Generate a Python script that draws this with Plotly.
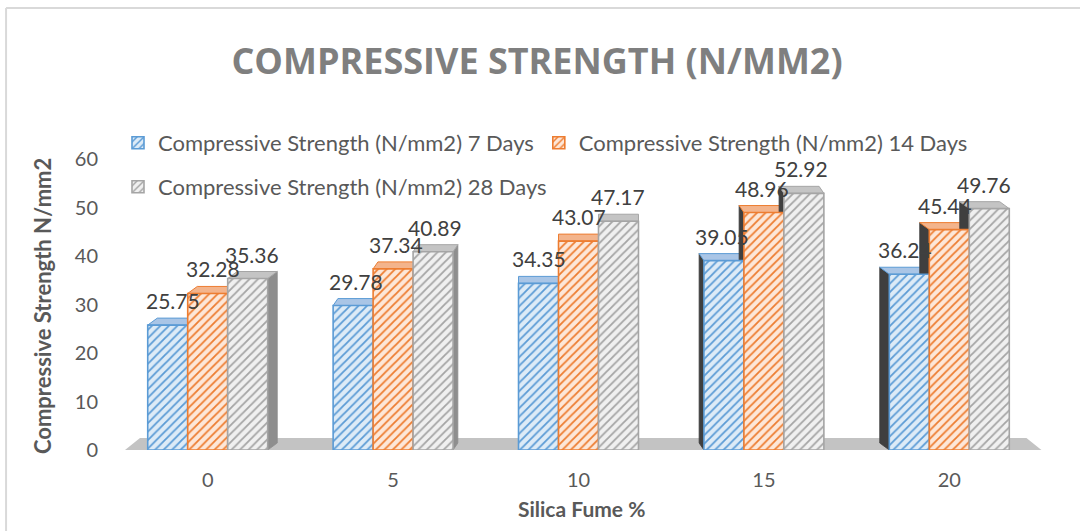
import plotly.graph_objects as go

# ---- data ----
silica_fume = ["0", "5", "10", "15", "20"]
strength_7 = [25.75, 29.78, 34.35, 39.05, 36.24]
strength_14 = [32.28, 37.34, 43.07, 48.96, 45.44]
strength_28 = [35.36, 40.89, 47.17, 52.92, 49.76]
series_names = [
    "Compressive Strength (N/mm2) 7 Days",
    "Compressive Strength (N/mm2) 14 Days",
    "Compressive Strength (N/mm2) 28 Days",
]
y_ticks = [0, 10, 20, 30, 40, 50, 60]

# ---- styling ----
front_fill = ["#ddebf7", "#fde7d8", "#f0f0f0"]
edge_col = ["#5b9bd5", "#ed7d31", "#a5a5a5"]
top_fill = ["#a9c5e6", "#f3b48c", "#c4c4c4"]
FONT = "Lato"
TXT = "#595959"

W, H = 1080, 531
L, R, T, B = 115, 37.5, 159, 81
plot_w = W - L - R
plot_h = H - T - B
n_cat = len(silica_fume)
x_range = [-0.5, n_cat - 0.5]
y_range = [0, 60]
px_per_x = plot_w / (x_range[1] - x_range[0])
px_per_y = plot_h / (y_range[1] - y_range[0])

group_w = 0.647
bar_w = group_w / 3
depth_up = 7 / px_per_y           # upward shift of the back edge
def depth_dx(i):                  # sideways shift of the back edge (perspective)
    return (2 - i) * 4.8 / px_per_x

def to_paper_x(px):
    return (px - L) / plot_w

def to_paper_y(py):
    return (H - B - py) / plot_h

all_series = [strength_7, strength_14, strength_28]
cats = list(range(n_cat))

fig = go.Figure()
for j, (vals, name) in enumerate(zip(all_series, series_names)):
    fig.add_trace(go.Bar(
        x=cats, y=vals, name=name,
        legend="legend" if j < 2 else "legend2",
        marker=dict(
            color=front_fill[j],
            line=dict(color=edge_col[j], width=1.6),
            pattern=dict(shape="/", fgcolor=edge_col[j], bgcolor=front_fill[j],
                         size=6, solidity=0.3, fillmode="replace"),
        ),
        hoverinfo="skip",
    ))

shapes = []
# floor
fl_front = (-0.446, 4.497)
fl_back = (-0.365, 4.416)
fl_depth = 12 / px_per_y
shapes.append(dict(
    type="path", xref="x", yref="y", layer="below",
    path=f"M {fl_front[0]},0 L {fl_front[1]},0 L {fl_back[1]},{fl_depth} L {fl_back[0]},{fl_depth} Z",
    fillcolor="#c3c3c3", line=dict(width=0),
))

# 3-D sides and tops of each column
annotations = []
for j, vals in enumerate(all_series):
    for i, v in enumerate(vals):
        xl = i - group_w / 2 + j * bar_w
        xr = xl + bar_w
        dx = depth_dx(i)
        dy = depth_up
        if dx > 1e-9:
            side = f"M {xr},0 L {xr},{v} L {xr+dx},{v+dy} L {xr+dx},{dy} Z"
            side_col = "#8e8e8e"
        elif dx < -1e-9:
            side = f"M {xl},0 L {xl},{v} L {xl+dx},{v+dy} L {xl+dx},{dy} Z"
            side_col = "#3f3f3f"
        else:
            side = None
        if side:
            shapes.append(dict(type="path", xref="x", yref="y", layer="below",
                               path=side, fillcolor=side_col,
                               line=dict(color=side_col, width=0.8)))
        top = f"M {xl},{v} L {xr},{v} L {xr+dx},{v+dy} L {xl+dx},{v+dy} Z"
        shapes.append(dict(type="path", xref="x", yref="y", layer="below",
                           path=top, fillcolor=top_fill[j],
                           line=dict(color=edge_col[j], width=1)))
        annotations.append(dict(
            x=(xl + xr) / 2 + dx / 2, y=v + dy, xref="x", yref="y",
            text=f"{v:g}", showarrow=False, yanchor="bottom", yshift=3,
            font=dict(family=FONT, size=21, color="#404040"),
        ))

# chart frame: only the left and top edges are inside the canvas
frame = dict(xref="paper", yref="paper", layer="below",
             line=dict(color="#d9d9d9", width=2))
shapes.append(dict(type="line", x0=to_paper_x(6), x1=to_paper_x(6),
                   y0=to_paper_y(540), y1=to_paper_y(8), **frame))
shapes.append(dict(type="line", x0=to_paper_x(6), x1=to_paper_x(1090),
                   y0=to_paper_y(8), y1=to_paper_y(8), **frame))

# axis titles
annotations.append(dict(
    x=to_paper_x(42), y=to_paper_y(306), xref="paper", yref="paper",
    text="<b>Compressive Strength N/mm2</b>", textangle=-90, showarrow=False,
    font=dict(family=FONT, size=22, color=TXT), xanchor="center", yanchor="middle",
))
annotations.append(dict(
    x=to_paper_x(582), y=to_paper_y(508), xref="paper", yref="paper",
    text="<b>Silica Fume %</b>", showarrow=False,
    font=dict(family=FONT, size=21, color=TXT), xanchor="center", yanchor="middle",
))

fig.update_layout(
    width=W, height=H,
    margin=dict(l=L, r=R, t=T, b=B),
    paper_bgcolor="white", plot_bgcolor="white",
    barmode="group", bargap=1 - group_w, bargroupgap=0,
    title=dict(
        text="<b>COMPRESSIVE STRENGTH (N/MM2)</b>",
        x=537 / W, xanchor="center",
        y=1 - 61 / H, yanchor="middle",
        font=dict(family="Open Sans", size=36, color="#7f7f7f"),
    ),
    xaxis=dict(
        range=x_range, tickmode="array", tickvals=cats, ticktext=silica_fume,
        showgrid=False, zeroline=False, showline=False, ticks="",
        tickfont=dict(family=FONT, size=20, color=TXT), ticklabelstandoff=16,
    ),
    yaxis=dict(
        range=y_range, tickmode="array", tickvals=y_ticks,
        showgrid=False, zeroline=False, showline=False, ticks="",
        tickfont=dict(family=FONT, size=20, color=TXT), ticklabelstandoff=16,
    ),
    legend=dict(
        orientation="h", x=to_paper_x(118), xanchor="left",
        y=to_paper_y(143), yanchor="middle",
        font=dict(family=FONT, size=22, color=TXT), bgcolor="rgba(0,0,0,0)",
        itemclick=False,
    ),
    legend2=dict(
        orientation="h", x=to_paper_x(118), xanchor="left",
        y=to_paper_y(187), yanchor="middle",
        font=dict(family=FONT, size=22, color=TXT), bgcolor="rgba(0,0,0,0)",
        itemclick=False,
    ),
    shapes=shapes,
    annotations=annotations,
    showlegend=True,
)

fig.write_html("out.html")
